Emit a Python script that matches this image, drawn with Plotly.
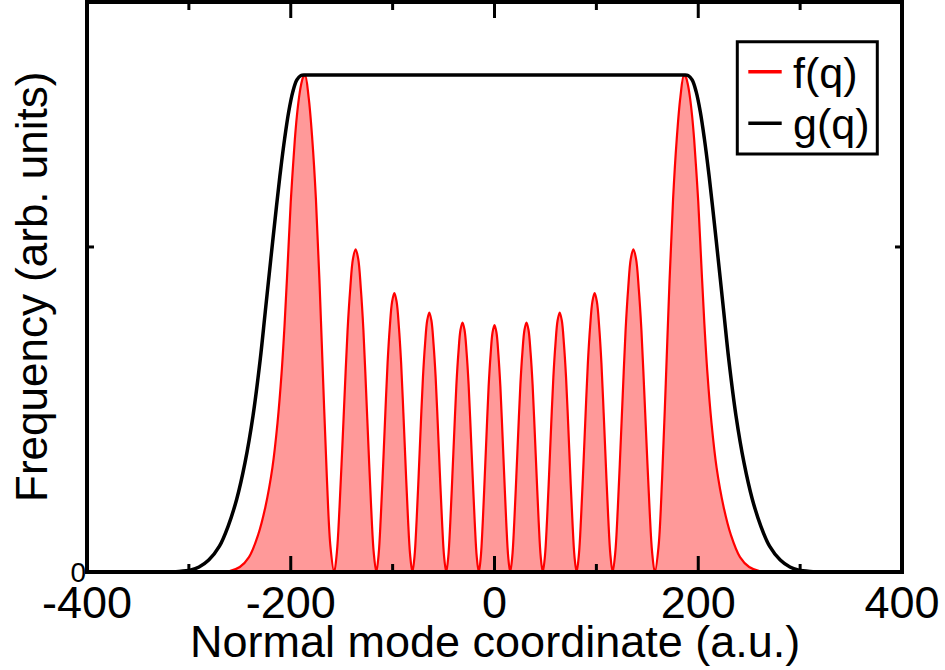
import plotly.graph_objects as go

# f(q): probability density along the normal mode coordinate
q_f = [-400, -275, -260, -250, -241, -232, -225, -218, -213, -209, -206, -203, -200, -198, -196, -194, -192, -190, -188,
       -186.0, -182.43, -178.85, -175.28, -171.7, -168.13, -164.55, -160.98,
       -157.4, -154.76, -152.13, -149.49, -146.85, -144.21, -141.58, -138.94,
       -136.3, -133.76, -131.23, -128.69, -126.15, -123.61, -121.08, -118.54,
       -116.0, -113.79, -111.58, -109.36, -107.15, -104.94, -102.73, -100.51,
       -98.3, -96.09, -93.88, -91.66, -89.45, -87.24, -85.03, -82.81,
       -80.6, -78.525, -76.45, -74.375, -72.3, -70.225, -68.15, -66.075,
       -64.0, -61.925, -59.85, -57.775, -55.7, -53.625, -51.55, -49.475,
       -47.4, -45.4, -43.4, -41.4, -39.4, -37.4, -35.4, -33.4,
       -31.4, -29.4, -27.4, -25.4, -23.4, -21.4, -19.4, -17.4,
       -15.4, -13.475, -11.55, -9.625, -7.7, -5.775, -3.85, -1.925,
       0.0,
       1.925, 3.85, 5.775, 7.7, 9.625, 11.55, 13.475, 15.4,
       17.4, 19.4, 21.4, 23.4, 25.4, 27.4, 29.4, 31.4,
       33.4, 35.4, 37.4, 39.4, 41.4, 43.4, 45.4, 47.4,
       49.475, 51.55, 53.625, 55.7, 57.775, 59.85, 61.925, 64.0,
       66.075, 68.15, 70.225, 72.3, 74.375, 76.45, 78.525, 80.6,
       82.81, 85.03, 87.24, 89.45, 91.66, 93.88, 96.09, 98.3,
       100.51, 102.73, 104.94, 107.15, 109.36, 111.58, 113.79, 116.0,
       118.54, 121.08, 123.61, 126.15, 128.69, 131.23, 133.76, 136.3,
       138.94, 141.58, 144.21, 146.85, 149.49, 152.13, 154.76, 157.4,
       160.98, 164.55, 168.13, 171.7, 175.28, 178.85, 182.43, 186.0,
       188, 190, 192, 194, 196, 198, 200, 203, 206, 209, 213, 218, 225, 232, 241, 250, 260, 275, 400]
f_vals = [0, 0, 0.002, 0.01, 0.03, 0.075, 0.13, 0.21, 0.30, 0.40, 0.50, 0.62, 0.745, 0.81, 0.87, 0.917, 0.953, 0.979, 0.995,
          1.0, 0.955, 0.87, 0.75, 0.58, 0.38, 0.19, 0.05,
          0, 0.039, 0.130, 0.247, 0.370, 0.487, 0.571, 0.630,
          0.649, 0.630, 0.571, 0.487, 0.370, 0.247, 0.130, 0.039,
          0, 0.034, 0.112, 0.213, 0.320, 0.421, 0.494, 0.544,
          0.561, 0.544, 0.494, 0.421, 0.320, 0.213, 0.112, 0.034,
          0, 0.031, 0.104, 0.198, 0.298, 0.392, 0.459, 0.506,
          0.522, 0.506, 0.459, 0.392, 0.298, 0.198, 0.104, 0.031,
          0, 0.030, 0.100, 0.191, 0.286, 0.377, 0.442, 0.487,
          0.502, 0.487, 0.442, 0.377, 0.286, 0.191, 0.100, 0.030,
          0, 0.030, 0.099, 0.189, 0.283, 0.373, 0.437, 0.482,
          0.497,
          0.482, 0.437, 0.373, 0.283, 0.189, 0.099, 0.030, 0,
          0.030, 0.100, 0.191, 0.286, 0.377, 0.442, 0.487, 0.502,
          0.487, 0.442, 0.377, 0.286, 0.191, 0.100, 0.030, 0,
          0.031, 0.104, 0.198, 0.298, 0.392, 0.459, 0.506, 0.522,
          0.506, 0.459, 0.392, 0.298, 0.198, 0.104, 0.031, 0,
          0.034, 0.112, 0.213, 0.320, 0.421, 0.494, 0.544, 0.561,
          0.544, 0.494, 0.421, 0.320, 0.213, 0.112, 0.034, 0,
          0.039, 0.130, 0.247, 0.370, 0.487, 0.571, 0.630, 0.649,
          0.630, 0.571, 0.487, 0.370, 0.247, 0.130, 0.039, 0,
          0.05, 0.19, 0.38, 0.58, 0.75, 0.87, 0.955, 1.0,
          0.995, 0.979, 0.953, 0.917, 0.87, 0.81, 0.745, 0.62, 0.50, 0.40, 0.30, 0.21, 0.13, 0.075, 0.03, 0.01, 0.002, 0, 0]

# g(q): flat-topped envelope
q_g = [-400, -330, -310, -298, -290, -280.5, -270, -261.5, -253, -245, -237, -230, -225, -219.5,
       -214, -210, -206, -202, -198, -194, -190, -186, -180, -150, -100, -50, 0, 50, 100, 150, 180, 186,
       190, 194, 198, 202, 206, 210, 214, 219.5, 225, 230, 237, 245, 253, 261.5, 270, 280.5,
       290, 298, 310, 330, 400]
g_vals = [0, 0, 0.001, 0.004, 0.01, 0.024, 0.052, 0.092, 0.147, 0.219, 0.315, 0.427, 0.524, 0.631,
          0.736, 0.808, 0.872, 0.926, 0.966, 0.99, 0.999, 1.0, 1.0, 1.0, 1.0, 1.0, 1.0, 1.0, 1.0, 1.0, 1.0, 1.0,
          0.999, 0.99, 0.966, 0.926, 0.872, 0.808, 0.736, 0.631, 0.524, 0.427, 0.315, 0.219, 0.147, 0.092,
          0.052, 0.024, 0.01, 0.004, 0.001, 0, 0]

x_ticks = [-400, -200, 0, 200, 400]
x_ticktext = ["-400", "-200", "0", "200", "400"]
x_minor = [-300, -100, 100, 300]
y_ticks = [0, 0.654]
y_ticktext = ["0", ""]
legend_names = ["f(q)", "g(q)"]
legend_colors = ["#ff0000", "#000000"]

FONT = "Liberation Sans, Arial, Helvetica, sans-serif"
W, H = 945, 670
L, R, T, B = 87, 902, 2, 572
MAJOR_LEN, MINOR_LEN, Y_TICK_LEN, TICK_W = 16, 8, 7, 3


def px(x):
    return (x - L) / (R - L)


def py(y):
    return (B - y) / (B - T)


fig = go.Figure()
fig.add_trace(go.Scatter(
    x=q_f, y=f_vals, mode="lines", line=dict(color="#ff0000", width=2.2, shape="spline", smoothing=1.0),
    fill="tozeroy", fillcolor="#ff9999", name="f(q)", hoverinfo="skip"))
fig.add_trace(go.Scatter(
    x=q_g, y=g_vals, mode="lines", line=dict(color="#000000", width=3.5, shape="spline", smoothing=1.0),
    name="g(q)"))

shapes = []
# inward tick marks on the bottom and top edges of the box (lengths as fractions of plot height)
for vals, length in ((x_ticks[1:-1], MAJOR_LEN), (x_minor, MINOR_LEN)):
    frac = length / (B - T)
    for v in vals:
        shapes.append(dict(type="line", xref="x", yref="paper", x0=v, x1=v, y0=0, y1=frac,
                           line=dict(color="black", width=TICK_W), layer="above"))
        shapes.append(dict(type="line", xref="x", yref="paper", x0=v, x1=v, y0=1, y1=1 - frac,
                           line=dict(color="black", width=TICK_W), layer="above"))
# inward tick marks on the left and right edges
yfrac = Y_TICK_LEN / (R - L)
for v in y_ticks[1:]:
    shapes.append(dict(type="line", xref="paper", yref="y", y0=v, y1=v, x0=0, x1=yfrac,
                       line=dict(color="black", width=TICK_W), layer="above"))
    shapes.append(dict(type="line", xref="paper", yref="y", y0=v, y1=v, x0=1, x1=1 - yfrac,
                       line=dict(color="black", width=TICK_W), layer="above"))

# box around the plot area
shapes.append(dict(type="rect", xref="paper", yref="paper", x0=0, x1=1, y0=0, y1=1,
                   line=dict(color="black", width=4), layer="above"))

# legend box drawn as shapes + text
shapes.append(dict(type="rect", xref="paper", yref="paper", x0=px(737.3), x1=px(877.3),
                   y0=py(154), y1=py(41.7), line=dict(color="black", width=3),
                   fillcolor="white", layer="above"))
annotations = []
for i, (name, col) in enumerate(zip(legend_names, legend_colors)):
    yc = 71.7 + i * 51.6
    shapes.append(dict(type="line", xref="paper", yref="paper", x0=px(748.3), x1=px(781.7),
                       y0=py(yc), y1=py(yc), line=dict(color=col, width=3.5), layer="above"))
    annotations.append(dict(text=name, xref="paper", yref="paper", x=px(790.5), y=py(yc + 1),
                            xanchor="left", yanchor="middle", showarrow=False,
                            font=dict(size=43, family=FONT, color="black")))

annotations += [
    dict(text="Normal mode coordinate (a.u.)", xref="paper", yref="paper",
         x=0.5, y=py(641), xanchor="center", yanchor="middle",
         showarrow=False, font=dict(size=45, family=FONT)),
    dict(text="Frequency (arb. units)", xref="paper", yref="paper",
         x=px(31), y=0.5, xanchor="center", yanchor="middle", textangle=-90,
         showarrow=False, font=dict(size=44, family=FONT)),
]

fig.update_layout(
    width=W, height=H,
    margin=dict(l=L, r=W - R, t=T, b=H - B),
    paper_bgcolor="white", plot_bgcolor="white",
    font=dict(family=FONT, color="black"),
    showlegend=False,
    shapes=shapes,
    annotations=annotations,
)
fig.update_xaxes(
    range=[-400, 400], tickvals=x_ticks, ticktext=x_ticktext, ticks="", showline=False,
    showgrid=False, zeroline=False, tickfont=dict(size=45, family=FONT))
fig.update_yaxes(
    range=[0, 1.1469], tickvals=y_ticks, ticktext=y_ticktext, ticks="", showline=False,
    showgrid=False, zeroline=False, tickfont=dict(size=28, family=FONT))

fig.write_html("out.html")
